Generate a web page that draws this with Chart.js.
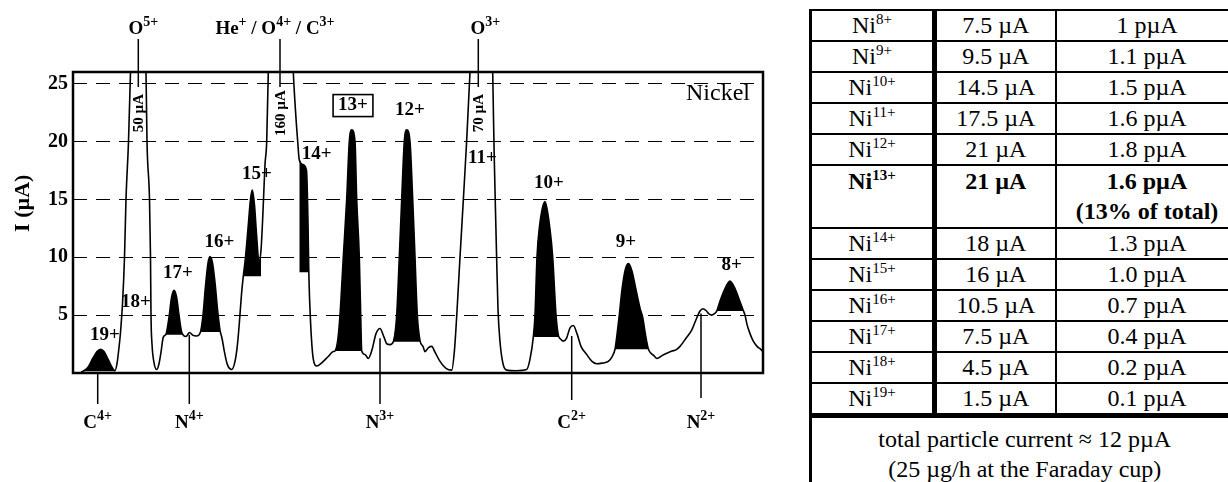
<!DOCTYPE html>
<html>
<head>
<meta charset="utf-8">
<script src="https://cdn.jsdelivr.net/npm/chart.js@4.4.0/dist/chart.umd.min.js"></script>
<style>
  html, body { margin: 0; padding: 0; background: #fff; width: 1228px; height: 482px; overflow: hidden; }
  #wrap { position: absolute; left: 0; top: 0; width: 790px; height: 482px; }
  #tbl { position: absolute; left: 809px; top: 9px; width: 428px; border-collapse: collapse; table-layout: fixed;
         font-family: 'Liberation Serif', 'Times New Roman', serif; font-size: 24px; color: #000; }
  #tbl td { border: 2px solid #000; padding: 0; height: 29px; line-height: 29px; text-align: center;
            vertical-align: middle; white-space: nowrap; }
  #tbl td.c1 { border-left-width: 3px; border-right-width: 5px; }
  #tbl tr.hi td { vertical-align: top; height: 61px; line-height: 30px; font-weight: bold; }
  #tbl tr.tot td { border-top-width: 5px; border-left-width: 3px; height: 70px; line-height: 30px;
                   padding-top: 6px; vertical-align: top; }
  #tbl sup { font-size: 15px; line-height: 0; vertical-align: 9px; }
</style>
</head>
<body>
<div id="wrap"><canvas id="spectrum"></canvas></div>
<table id="tbl">
  <colgroup><col style="width:124px"><col style="width:121px"><col style="width:183px"></colgroup>
  <tbody id="tbody"></tbody>
</table>
<script>
// scan position (arbitrary channel) and measured current I (µA)
const scanPos = [8, 10, 15, 20, 24, 27.5, 31, 35, 39, 42, 44, 46, 47.5, 49.7, 51.5, 53, 55.5, 57.5, 58.5, 65,
  71.5, 73, 74, 76.5, 77.5, 78, 79, 81, 83.7, 86, 88, 90.3, 93, 96, 98.5, 101, 103.5, 106, 108.5, 110.5,
  113, 116.5, 120, 123.5, 127.5, 130, 132.5, 135, 137, 139.5, 142, 144.5, 147, 149, 151.5, 154.5, 158.7, 162, 164.5, 166.5,
  168.5, 170.3, 172.5, 175.5, 177.5, 179.3, 181.5, 183.5, 186, 188, 189.5, 190.5, 192, 193.7, 195.3, 197, 208, 219, 220.3, 223,
  224.7, 226.3, 230, 233.5, 235, 235.8, 237.5, 240.3, 243.7, 249, 255, 260.3, 262, 265, 267, 270.3, 273.7, 276.3, 278.7, 282,
  283.7, 286.3, 287.7, 288.7, 292, 295.3, 299, 303, 307, 311, 314, 317, 320.3, 323.7, 326.3, 328.7, 331.3, 333.7, 337, 339.7,
  342, 344.3, 347, 350, 352, 355.5, 358.7, 362, 367, 373, 378.7, 381.5, 383.7, 387, 390.3, 393.7, 397, 399, 408, 418,
  419.7, 420.5, 421.3, 422.5, 423.7, 425, 427, 430, 433.7, 443, 453.7, 457, 460.3, 462, 464, 466.3, 472, 477, 479.7, 483,
  485.3, 488, 490.3, 493.5, 497, 500.3, 504, 508, 513.7, 519, 523.7, 529, 535.3, 539, 542, 544, 546.3, 549, 552.5, 555.5,
  559, 563, 567, 569.7, 572.5, 575.3, 578, 580.3, 584, 589, 593.7, 599, 603, 607, 613, 618.7, 623, 627, 630, 633,
  636, 638.7, 641, 643.7, 647, 651, 657, 662, 666, 670.3, 672, 674, 677, 680, 684, 687, 690];
const beamCurrent = [0.1, 0.15, 0.5, 1.3, 1.85, 2.05, 1.85, 1.2, 0.5, 0.2, 0.8, 2.2, 3.5, 6.3, 10, 15, 20, 26, 28.5, 31,
  28.5, 26, 20, 15, 10, 5, 2.5, 0.9, 0.3, 0.8, 1.8, 3.1, 3.35, 4.8, 6.5, 7.15, 6.6, 5.0, 3.6, 3.25,
  3.15, 3.5, 3.25, 3.2, 3.55, 5.0, 7.5, 9.5, 10.05, 9.5, 7.8, 5.5, 3.7, 3.0, 1.8, 0.7, 0.3, 1.0, 2.5, 4.5,
  6.8, 8.35, 10, 13, 15, 15.8, 14.5, 12, 9.6, 10.6, 13, 15, 18, 20, 26, 29, 31, 29, 26, 22,
  20, 18.4, 18.0, 17.5, 13, 8.7, 4.5, 1.2, 0.6, 0.9, 1.4, 1.85, 1.9, 3, 5, 10, 15, 20, 21, 20,
  15, 10, 5, 1.9, 1.6, 1.25, 2.0, 3.4, 3.85, 3.1, 2.5, 2.45, 2.7, 5, 10, 15, 20, 21, 20, 15,
  10, 5, 2.8, 2.3, 1.85, 2.2, 2.3, 1.8, 1.0, 0.4, 0.25, 2.0, 4.9, 10, 14.9, 20.1, 26, 29, 31, 29,
  26, 22, 18.4, 14, 9.7, 5.5, 2.7, 0.8, 0.25, 0.2, 0.3, 1.2, 3.1, 5, 10, 12.5, 14.8, 12.4, 10, 5,
  3.3, 2.9, 2.75, 3.0, 3.9, 4.1, 3.4, 2.3, 1.6, 1.0, 0.8, 0.85, 1.0, 1.4, 2.05, 3.3, 5, 7.2, 9.0, 9.45,
  8.8, 7.2, 5.6, 4.8, 3.3, 2.1, 1.7, 1.55, 1.25, 1.5, 1.7, 1.9, 2.0, 2.3, 3.0, 3.7, 4.6, 5.35, 5.55, 5.4,
  5.1, 5.0, 5.1, 5.35, 6.2, 7.1, 7.95, 7.3, 6.4, 5.4, 5.0, 4.2, 3.4, 2.8, 2.3, 2.1, 1.85];

// nickel peaks that are shaded: range on the scan and background level
const peakName = ['19+', '17+', '16+', '15+', '14+', '13+', '12+', '10+', '9+', '8+'];
const peakFrom = [10, 93, 127.5, 170.3, 226.3, 262, 320.3, 460.3, 542, 643.7];
const peakTo   = [42, 110.5, 147, 188, 235.8, 288.7, 347, 485.3, 575.3, 670.3];
const peakBase = [0.15, 3.3, 3.55, 8.35, 8.7, 1.9, 2.7, 3.1, 2.05, 5.35];

// charge state labels
const chargeText = ['19+', '18+', '17+', '16+', '15+', '14+', '13+', '12+', '11+', '10+', '9+', '8+'];
const chargeX = [32, 63, 105, 146.5, 184, 243.7, 280, 337, 409.5, 476, 553, 658.7];
const chargeY = [3.3, 6.15, 8.6, 11.3, 17.2, 18.9, 23.1, 22.7, 18.6, 16.4, 11.3, 9.3];

// contaminant ions (^ = superscript)
const topIons = ['O^5+', 'He^+ / O^4+ / C^3+', 'O^3+'];
const topIonX = [65.3, 207, 405.3];
const offScale = ['50 µA', '160 µA', '70 µA'];
const bottomIons = ['C^4+', 'N^4+', 'N^3+', 'C^2+', 'N^2+'];
const bottomIonX = [24.7, 116.3, 307, 498.7, 628];
const bottomIonY = [0, 3.3, 3.0, 3.2, 5.15];

const yTicks = [5, 10, 15, 20, 25];

// table
const tableIon = ['8+', '9+', '10+', '11+', '12+', '13+', '14+', '15+', '16+', '17+', '18+', '19+'];
const tableCurrent = ['7.5', '9.5', '14.5', '17.5', '21', '21', '18', '16', '10.5', '7.5', '4.5', '1.5'];
const tableParticle = ['1', '1.1', '1.5', '1.6', '1.8', '1.6', '1.3', '1.0', '0.7', '0.4', '0.2', '0.1'];
const bestIon = '13+';

const FONT = "'Liberation Serif', 'Times New Roman', serif";

let rows = '';
for (let i = 0; i < tableIon.length; i++) {
    let hi = tableIon[i] === bestIon;
    rows += `<tr class="${hi ? 'hi' : ''}"><td class="c1">Ni<sup>${tableIon[i]}</sup></td>` +
            `<td>${tableCurrent[i]} µA</td>` +
            `<td>${tableParticle[i]} pµA${hi ? '<br>(13% of total)' : ''}</td></tr>`;
}
rows += '<tr class="tot"><td colspan="3">total particle current ≈ 12 pµA<br>(25 µg/h at the Faraday cup)</td></tr>';
document.getElementById('tbody').innerHTML = rows;

const trace = scanPos.map((x, i) => ({x: x, y: beamCurrent[i]}));

let datasets = [{
    data: trace,
    borderColor: '#000',
    borderWidth: 1.6,
    pointRadius: 0,
    cubicInterpolationMode: 'monotone',
    fill: false
}];

for (let i = 0; i < peakName.length; i++) {
    datasets.push({
        data: trace.filter(p => p.x >= peakFrom[i] && p.x <= peakTo[i]),
        borderWidth: 0,
        borderColor: 'rgba(0,0,0,0)',
        backgroundColor: '#000',
        pointRadius: 0,
        cubicInterpolationMode: 'monotone',
        fill: {value: peakBase[i]}
    });
}

function richText(ctx, str, cx, y, size, supSize) {
    let parts = str.split(/(\^\S+)/).filter(s => s).map(s => s[0] === '^' ? [s.slice(1), true] : [s, false]);
    let w = 0;
    parts.forEach(p => {
        ctx.font = `bold ${p[1] ? supSize : size}px ${FONT}`;
        p.push(ctx.measureText(p[0]).width);
        w += p[2];
    });
    let x = cx - w / 2;
    ctx.textAlign = 'left';
    ctx.textBaseline = 'alphabetic';
    parts.forEach(p => {
        ctx.font = `bold ${p[1] ? supSize : size}px ${FONT}`;
        ctx.fillText(p[0], x, p[1] ? y - size * 0.42 : y);
        x += p[2];
    });
}

const labelShift = [5, -5, 7];
const lineDrop = [31, 31, 31, 27, 25];

const annotate = {
    id: 'annotate',
    afterDatasetsDraw(chart) {
        const ctx = chart.ctx, a = chart.chartArea;
        const xs = chart.scales.x, ys = chart.scales.y;
        ctx.save();
        ctx.strokeStyle = '#000';
        ctx.fillStyle = '#000';

        ctx.lineWidth = 2.5;
        ctx.strokeRect(a.left, a.top, a.right - a.left, a.bottom - a.top);

        ctx.lineWidth = 1.5;
        for (let i = 0; i < topIons.length; i++) {
            let px = xs.getPixelForValue(topIonX[i]);
            ctx.beginPath();
            ctx.moveTo(px, a.top - 33);
            ctx.lineTo(px, ys.getPixelForValue(24.7));
            ctx.stroke();
            richText(ctx, topIons[i], px + labelShift[i], a.top - 38, 19, 14);

            ctx.save();
            ctx.translate(px + 1, ys.getPixelForValue(22.45));
            ctx.rotate(-Math.PI / 2);
            ctx.font = `bold 15px ${FONT}`;
            ctx.textAlign = 'center';
            ctx.textBaseline = 'middle';
            ctx.fillText(offScale[i], 0, 0);
            ctx.restore();
        }

        for (let i = 0; i < bottomIons.length; i++) {
            let px = xs.getPixelForValue(bottomIonX[i]);
            ctx.beginPath();
            ctx.moveTo(px, ys.getPixelForValue(bottomIonY[i]));
            ctx.lineTo(px, a.bottom + lineDrop[i]);
            ctx.stroke();
            richText(ctx, bottomIons[i], px, a.bottom + 55, 19, 14);
        }

        ctx.font = `bold 19px ${FONT}`;
        ctx.textAlign = 'center';
        ctx.textBaseline = 'middle';
        for (let i = 0; i < chargeText.length; i++) {
            let px = xs.getPixelForValue(chargeX[i]);
            let py = ys.getPixelForValue(chargeY[i]);
            ctx.fillText(chargeText[i], px, py);
            if (chargeText[i] === bestIon) {
                let w = ctx.measureText(chargeText[i]).width;
                ctx.lineWidth = 1.6;
                ctx.strokeRect(px - w / 2 - 5, py - 11, w + 10, 22);
            }
        }

        ctx.font = `24px ${FONT}`;
        ctx.textAlign = 'right';
        ctx.fillText('Nickel', xs.getPixelForValue(677), ys.getPixelForValue(24.1));

        ctx.save();
        ctx.translate(23, ys.getPixelForValue(14.66));
        ctx.rotate(-Math.PI / 2);
        ctx.font = `bold 22px ${FONT}`;
        ctx.textAlign = 'center';
        ctx.fillText('I (µA)', 0, 0);
        ctx.restore();

        ctx.restore();
    }
};

new Chart(document.getElementById('spectrum'), {
    type: 'line',
    data: {datasets: datasets},
    options: {
        responsive: true,
        maintainAspectRatio: false,
        animation: false,
        layout: {padding: {left: 0, top: 72, right: 27, bottom: 109}},
        plugins: {legend: {display: false}, tooltip: {enabled: false}},
        scales: {
            x: {type: 'linear', display: false, min: 0, max: 690},
            y: {
                min: 0,
                max: 26,
                afterBuildTicks: axis => { axis.ticks = yTicks.map(v => ({value: v})); },
                afterFit: axis => { axis.width = 73; },
                ticks: {color: '#000', padding: 5, font: {family: FONT, size: 20, weight: 'bold'}},
                grid: {color: '#000', lineWidth: 1, drawTicks: false},
                border: {display: false, dash: [14, 9]}
            }
        }
    },
    plugins: [annotate]
});
</script>
</body>
</html>
